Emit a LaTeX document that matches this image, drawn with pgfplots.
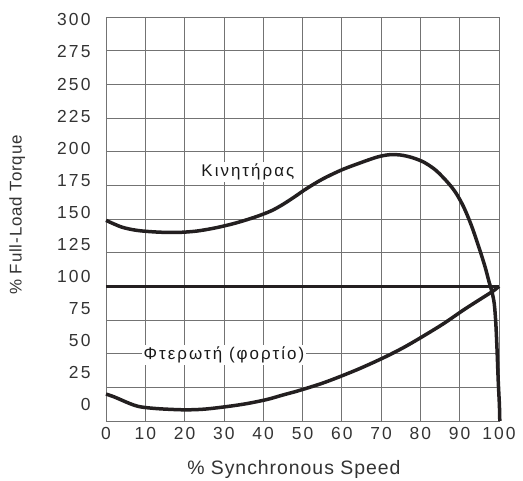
\documentclass[border=0pt]{standalone}
\usepackage{pgfplots}
\pgfplotsset{compat=1.18}
\usepackage{fontspec}
\setmainfont{Liberation Sans}
\newfontfamily\tickfont[LetterSpace=12]{Liberation Sans}
\newfontfamily\axlabfont[LetterSpace=5]{Liberation Sans}
\definecolor{gridc}{gray}{0.45}
\definecolor{curve}{HTML}{231F20}
\begin{document}
\begin{tikzpicture}
\useasboundingbox (-106bp,-60bp) rectangle (417bp,421bp);
\begin{axis}[
 at={(0,0)}, anchor=south west,
 scale only axis, width=393bp, height=404bp,
 xmin=0, xmax=100, ymin=0, ymax=300,
 clip=false,
 xtick={0,10,...,100},
 ytick={11.9,35.7,59.6,83.4,107.2,131.1,154.9,178.7,202.6,226.4,250.2,274.1,297.9},
 yticklabels={0,25,50,75,100,125,150,175,200,225,250,275,300},
 minor ytick={0,25,...,300},
 xmajorgrids, yminorgrids, ymajorgrids=false,
 major tick length=0, minor tick length=0,
 axis line style={gridc, line width=0.8bp},
 grid style={gridc, line width=0.8bp},
 minor grid style={gridc, line width=0.8bp},
 tick label style={font=\tickfont\fontsize{17.5}{20}\selectfont, text=black!80},
 /pgf/number format/assume math mode=true,
 xticklabel style={yshift=-3bp},
 yticklabel style={xshift=-12bp},
 xlabel={\% Synchronous Speed},
 ylabel={\% Full-Load Torque},
 xlabel style={font=\axlabfont\fontsize{19.5}{22}\selectfont, text=black!80, at={(axis description cs:0.478,-0.119)}, anchor=center},
 ylabel style={font=\axlabfont\fontsize{17}{20}\selectfont, text=black!80, at={(axis description cs:-0.226,0.51)}, anchor=center},
]
\addplot[curve, line width=3.5bp, smooth, tension=0.5] coordinates {
(0,149)(4,144)(8,141.5)(13,140.3)(18,140)(23,141)(28,143.5)(33,147)(38,151.5)(42,156)(45,160.8)(48,166.5)(51,172.5)(55,179.5)(60,186.5)(65,192)(69,196)(72,197.7)(75,197.5)(78,195.5)(81,192)(84,186)(87,177)(89,169.5)(91,159)(93,145)(95,128)(96.5,114)(97.5,103)(98.2,96)(98.8,87)(99.2,72)(99.5,53)(99.8,30)(100.1,12)(100.2,0)
};
\addplot[curve, line width=3.5bp, smooth, tension=0.5] coordinates {
(0,20)(2,18)(4,15.5)(6,13)(8,11)(10,10)(14,9)(20,8.3)(25,8.8)(31,10.8)(36,13)(41,16)(45,19.3)(49,22.5)(55,28)(60,33.5)(65,39.5)(71,47.5)(76,55)(81,63.5)(86,72.5)(91,82.5)(95,90)(98.5,96.5)(100,100)
};
\addplot[curve, line width=3.5bp] coordinates {(0,100)(100,100)};
\node[fill=white, inner sep=2bp, text=black!90, font=\tickfont\fontsize{17}{20}\selectfont] at (axis cs:36.1,185) {Κινητήρας};
\node[fill=white, inner sep=2bp, text=black!90, font=\tickfont\fontsize{17}{20}\selectfont] at (axis cs:30,49) {Φτερωτή (φορτίο)};
\end{axis}
\end{tikzpicture}
\end{document}
